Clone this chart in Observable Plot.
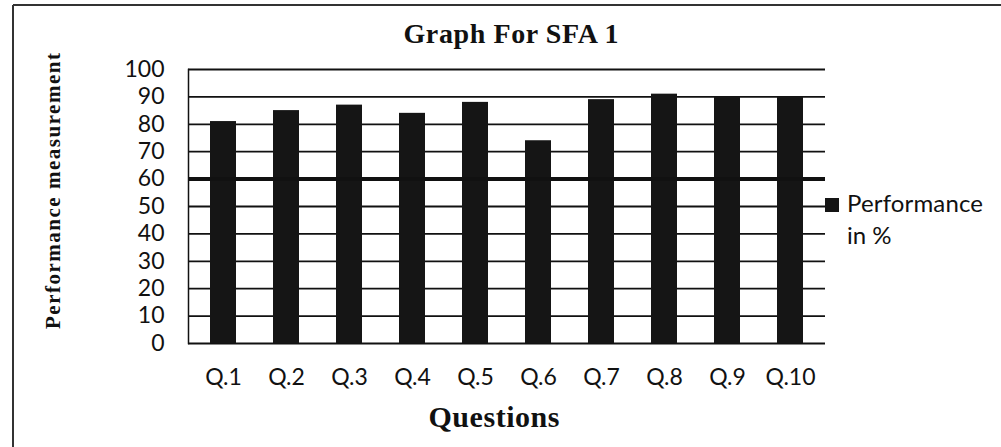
<!DOCTYPE html>
<html>
<head>
<meta charset="utf-8">
<script src="https://cdn.jsdelivr.net/npm/d3@7"></script>
<script src="https://cdn.jsdelivr.net/npm/@observablehq/plot@0.6"></script>
<style>
  html, body { margin: 0; padding: 0; background: #fff; }
  #chart svg { display: block; }
</style>
</head>
<body>
<div id="chart"></div>
<script>
const questions = ["Q.1", "Q.2", "Q.3", "Q.4", "Q.5", "Q.6", "Q.7", "Q.8", "Q.9", "Q.10"];
const performance = [81, 85, 87, 84, 88, 74, 89, 91, 90, 90];
const threshold = [60];
const yTicks = [0, 10, 20, 30, 40, 50, 60, 70, 80, 90, 100];
const titleText = "Graph For SFA 1";
const yLabel = "Performance measurement";
const xLabel = "Questions";
const legendLines = ["Performance", "in %"];

const data = questions.map((q, i) => ({q, v: performance[i]}));

const chart = Plot.plot({
  width: 1001,
  height: 447,
  marginLeft: 188,
  marginRight: 176,
  marginTop: 69,
  marginBottom: 104,
  style: {fontFamily: "Lato, 'Open Sans', sans-serif", fontSize: "23px", color: "#111", background: "#fff"},
  x: {domain: questions, paddingInner: 0.59, paddingOuter: 0.295, label: null, tickSize: 0, tickPadding: 25},
  y: {domain: [0, 100], ticks: yTicks, label: null, tickSize: 0, tickPadding: 24},
  marks: [
    Plot.gridY(yTicks, {stroke: "#111", strokeOpacity: 1, strokeWidth: 1.8}),
    Plot.barY(data, {x: "q", y: "v", fill: "#151515"}),
    Plot.ruleY(threshold, {stroke: "#111", strokeWidth: 4}),
    Plot.frame({anchor: "left", stroke: "#111", strokeWidth: 1.5})
  ]
});

document.getElementById("chart").appendChild(chart);

const svg = d3.select(chart);
// scanned page border
svg.append("line").attr("x1", 13).attr("y1", 5).attr("x2", 1001).attr("y2", 5)
  .attr("stroke", "#333").attr("stroke-width", 2);
svg.append("line").attr("x1", 13).attr("y1", 5).attr("x2", 13).attr("y2", 447)
  .attr("stroke", "#333").attr("stroke-width", 2);

svg.append("text").text(titleText)
  .attr("x", 511).attr("y", 43).attr("text-anchor", "middle")
  .attr("font-family", "'Liberation Serif', serif").attr("font-weight", "bold")
  .attr("font-size", 28).attr("textLength", 215).attr("lengthAdjust", "spacing").attr("fill", "#111");

svg.append("text").text(yLabel)
  .attr("transform", "translate(60,191) rotate(-90)").attr("text-anchor", "middle")
  .attr("font-family", "'Liberation Serif', serif").attr("font-weight", "bold")
  .attr("font-size", 21).attr("textLength", 276).attr("lengthAdjust", "spacing").attr("fill", "#111");

svg.append("text").text(xLabel)
  .attr("x", 494).attr("y", 427).attr("text-anchor", "middle")
  .attr("font-family", "'Liberation Serif', serif").attr("font-weight", "bold")
  .attr("font-size", 30).attr("textLength", 131).attr("lengthAdjust", "spacing").attr("fill", "#111");

svg.append("rect").attr("x", 825).attr("y", 198).attr("width", 14).attr("height", 14).attr("fill", "#151515");
legendLines.forEach((t, i) => {
  const el = svg.append("text").text(t)
    .attr("x", 847).attr("y", 212 + i * 32).attr("text-anchor", "start")
    .attr("font-family", "Lato, 'Open Sans', sans-serif").attr("font-size", 24).attr("fill", "#111");
  if (i === 0) el.attr("textLength", 136).attr("lengthAdjust", "spacing");
});
</script>
</body>
</html>
